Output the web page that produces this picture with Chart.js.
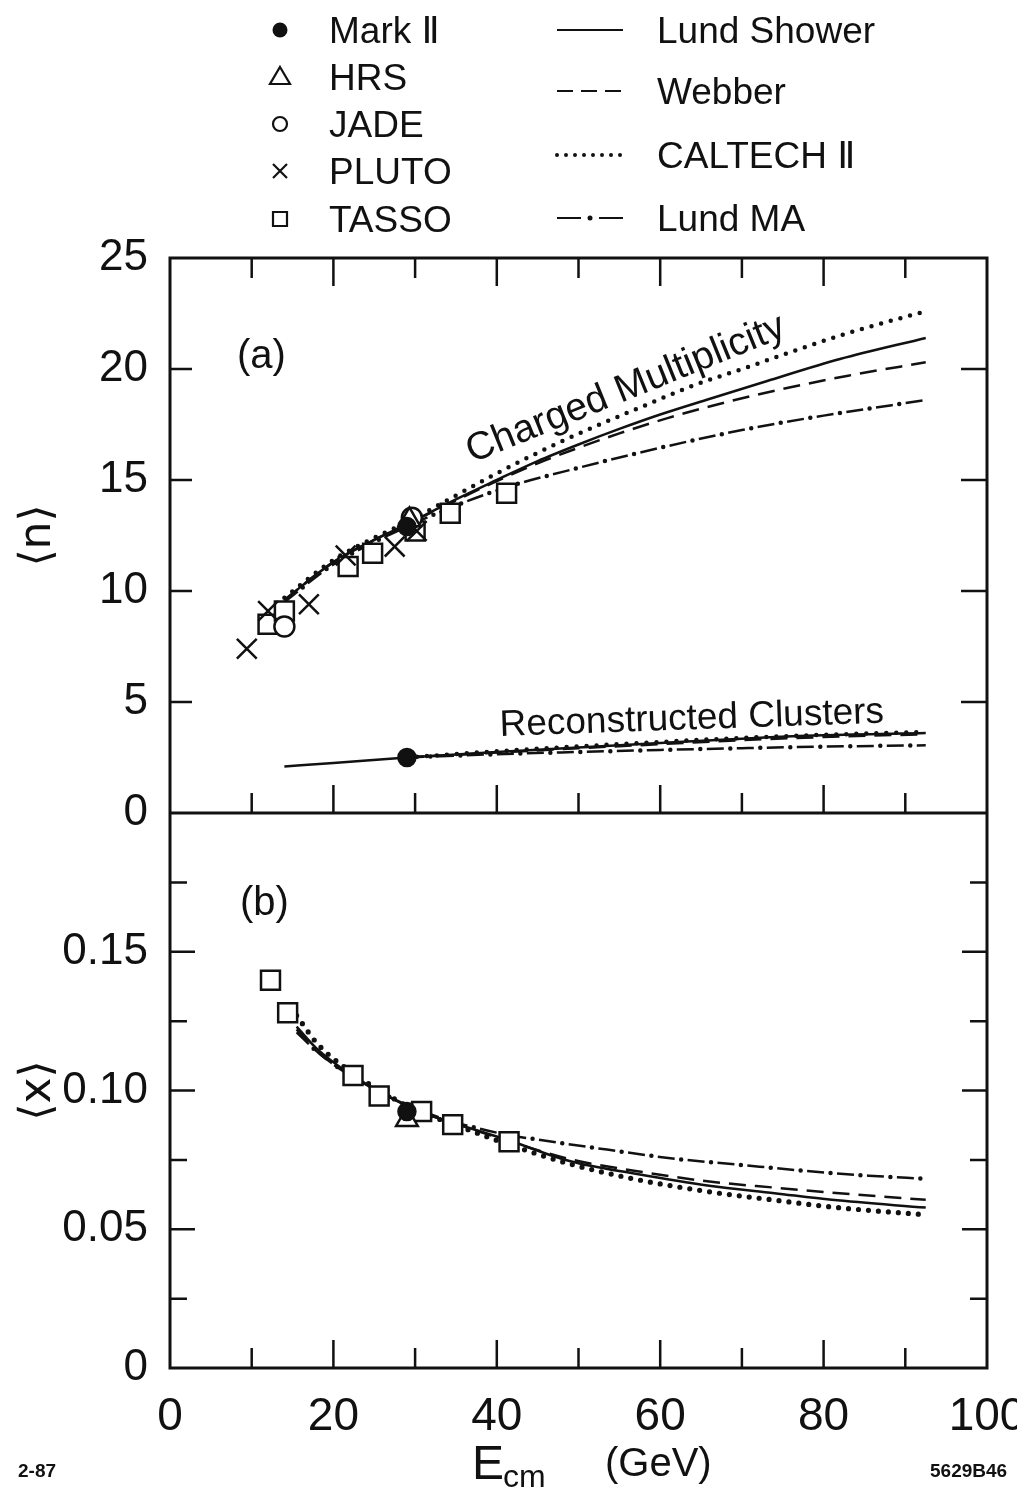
<!DOCTYPE html>
<html>
<head>
<meta charset="utf-8">
<title>Multiplicity and mean x vs E_cm</title>
<script src="https://cdn.jsdelivr.net/npm/chart.js@4.4.1/dist/chart.umd.min.js"></script>
<style>
  html, body { margin: 0; padding: 0; background: #fff; }
  #wrap { width: 1017px; height: 1491px; }
</style>
</head>
<body>
<div id="wrap"><canvas id="fig" width="1017" height="1491"></canvas></div>
<script>
// ---- (a) charged multiplicity <n>, data ----
const markIIE = [29.0];
const markIIN = [12.9];
const hrsE = [29.3];
const hrsN = [13.2];
const jadeE = [14.0, 29.6];
const jadeN = [8.4, 13.3];
const plutoE = [9.4, 12.0, 17.0, 21.5, 27.5, 30.2];
const plutoN = [7.4, 9.1, 9.4, 11.6, 12.0, 12.7];
const tassoE = [12.0, 14.0, 21.8, 24.8, 30.0, 34.3, 41.2];
const tassoN = [8.5, 9.1, 11.1, 11.7, 12.7, 13.5, 14.4];

// reconstructed clusters (Mark II)
const clusterE = [29.0];
const clusterN = [2.5];

// ---- (a) model curves ----
const lundShowerE = [14, 20, 25, 29, 34, 40, 45, 50, 55, 60, 66, 73, 82, 92.5];
const lundShowerN = [9.6, 11.3, 12.3, 13.0, 13.95, 15.0, 15.85, 16.6, 17.3, 17.95, 18.65, 19.45, 20.45, 21.4];
const webberE = [14, 20, 25, 29, 34, 40, 45, 50, 55, 61, 68, 75, 83, 92.5];
const webberN = [9.6, 11.3, 12.3, 13.0, 13.9, 14.95, 15.75, 16.45, 17.1, 17.8, 18.5, 19.1, 19.7, 20.3];
const caltechE = [14, 20, 25, 29, 34, 40, 47.7, 52.6, 58.4, 64, 70, 76.3, 82.8, 92.5];
const caltechN = [9.7, 11.4, 12.4, 13.1, 14.1, 15.3, 16.7, 17.5, 18.4, 19.25, 20.0, 20.8, 21.6, 22.6];
const lundMAE = [14, 20, 25, 29, 34, 41, 50, 60, 70, 80, 92.5];
const lundMAN = [9.5, 11.2, 12.2, 12.9, 13.7, 14.65, 15.55, 16.45, 17.25, 17.9, 18.6];

const lundShowerClE = [14, 20, 29, 40, 50, 60, 70, 80, 92.5];
const lundShowerClN = [2.1, 2.25, 2.5, 2.75, 2.95, 3.15, 3.35, 3.5, 3.6];
const webberClE = [29, 40, 50, 60, 70, 80, 92.5];
const webberClN = [2.5, 2.72, 2.92, 3.1, 3.28, 3.42, 3.55];
const caltechClE = [29, 40, 50, 60, 70, 80, 92.5];
const caltechClN = [2.5, 2.78, 3.0, 3.2, 3.38, 3.52, 3.65];
const lundMAClE = [29, 40, 50, 60, 70, 80, 92.5];
const lundMAClN = [2.5, 2.65, 2.75, 2.84, 2.92, 2.99, 3.05];

// ---- (b) mean scaled momentum <x>, data ----
const tassoXE = [12.3, 14.4, 22.4, 25.6, 30.8, 34.6, 41.5];
const tassoX = [0.1397, 0.128, 0.1054, 0.098, 0.0924, 0.0877, 0.0815];
const hrsXE = [29.0];
const hrsX = [0.0895];
const markIIXE = [29.0];
const markIIX = [0.0924];

// ---- (b) model curves ----
const modelXE = [15.5, 18, 22, 26, 30, 35, 41, 49, 57, 66, 74, 81, 92.5];
const lundShowerX = [0.123, 0.115, 0.106, 0.099, 0.093, 0.088, 0.0825, 0.0745, 0.0700, 0.0657, 0.0630, 0.0606, 0.0578];
const webberX = [0.122, 0.114, 0.1055, 0.099, 0.093, 0.088, 0.0822, 0.0752, 0.0710, 0.0672, 0.0650, 0.0632, 0.0606];
const caltechX = [0.127, 0.117, 0.107, 0.0995, 0.093, 0.0875, 0.0810, 0.0735, 0.0680, 0.0635, 0.0605, 0.0580, 0.0552];
const lundMAXE = [15.5, 18, 22, 26, 30, 35, 41, 45, 53.5, 61.5, 69.5, 77.5, 85.5, 92.5];
const lundMAX = [0.121, 0.114, 0.1055, 0.099, 0.0935, 0.0885, 0.0842, 0.0823, 0.0787, 0.0755, 0.0733, 0.0711, 0.0693, 0.0682];

const INK = '#111';
const FONT = "'Liberation Sans', Arial, sans-serif";

function pts(xs, ys) {
  return xs.map((e, i) => ({ x: e, y: ys[i] }));
}

function marker(xs, ys, axis, style, radius, filled) {
  return {
    data: pts(xs, ys), yAxisID: axis, showLine: false,
    pointStyle: style, pointRadius: radius, pointHoverRadius: radius,
    pointBorderWidth: 2.5, pointBorderColor: INK,
    pointBackgroundColor: filled ? INK : '#fff'
  };
}

// kind: solid | dashed | dotted | dashdot
function curve(xs, ys, axis, kind, dotWidth) {
  const ds = {
    data: pts(xs, ys), yAxisID: axis, showLine: true, pointRadius: 0,
    borderColor: INK, borderWidth: 2.5, fill: false,
    cubicInterpolationMode: 'monotone'
  };
  if (kind === 'dashed') ds.borderDash = [17, 9];
  if (kind === 'dotted') {
    ds.borderDash = [0, 10];
    ds.borderWidth = dotWidth || 4.5;
    ds.borderCapStyle = 'round';
  }
  if (kind === 'dashdot') ds.borderDash = [17, 13];
  return ds;
}

// the dots of a dash-dot curve sit in the gaps of its dashes
function dashDotDots(xs, ys, axis) {
  const ds = curve(xs, ys, axis, 'solid');
  ds.borderDash = [0, 30];
  ds.borderDashOffset = 6.5;
  ds.borderWidth = 4.5;
  ds.borderCapStyle = 'round';
  return ds;
}

const datasets = [
  marker(markIIE, markIIN, 'yN', 'circle', 8.5, true),
  marker(clusterE, clusterN, 'yN', 'circle', 8.5, true),
  marker(hrsE, hrsN, 'yN', 'triangle', 12.5, false),
  marker(jadeE, jadeN, 'yN', 'circle', 10, false),
  marker(plutoE, plutoN, 'yN', 'crossRot', 14, false),
  marker(tassoE, tassoN, 'yN', 'rect', 13.4, false),
  marker(markIIXE, markIIX, 'yX', 'circle', 8.5, true),
  marker(hrsXE, hrsX, 'yX', 'triangle', 12.5, false),
  marker(tassoXE, tassoX, 'yX', 'rect', 13.4, false),

  curve(lundShowerE, lundShowerN, 'yN', 'solid'),
  curve(webberE, webberN, 'yN', 'dashed'),
  curve(caltechE, caltechN, 'yN', 'dotted'),
  curve(lundMAE, lundMAN, 'yN', 'dashdot'),
  dashDotDots(lundMAE, lundMAN, 'yN'),

  curve(lundShowerClE, lundShowerClN, 'yN', 'solid'),
  curve(webberClE, webberClN, 'yN', 'dashed'),
  curve(caltechClE, caltechClN, 'yN', 'dotted'),
  curve(lundMAClE, lundMAClN, 'yN', 'dashdot'),
  dashDotDots(lundMAClE, lundMAClN, 'yN'),

  curve(modelXE, lundShowerX, 'yX', 'solid'),
  curve(modelXE, webberX, 'yX', 'dashed'),
  curve(modelXE, caltechX, 'yX', 'dotted', 5.2),
  curve(lundMAXE, lundMAX, 'yX', 'dashdot'),
  dashDotDots(lundMAXE, lundMAX, 'yX')
];

// text with a trailing roman numeral two, the numeral set in DejaVu
function labelWithTwo(ctx, text, x, y, size) {
  const hasTwo = text.endsWith(' Ⅱ');
  const head = hasTwo ? text.slice(0, -1) : text;
  ctx.font = size + 'px ' + FONT;
  ctx.fillText(head, x, y);
  if (hasTwo) {
    const w = ctx.measureText(head).width;
    ctx.font = size + "px 'DejaVu Sans'";
    ctx.fillText('Ⅱ', x + w, y);
    ctx.font = size + 'px ' + FONT;
  }
}

// frame, inward ticks, panel labels, key and footer text
const decorations = {
  id: 'decorations',
  afterDraw(chart) {
    const { ctx, chartArea: a, scales } = chart;
    const sx = scales.x, yN = scales.yN, yX = scales.yX;
    const mid = yN.getPixelForValue(0);

    ctx.save();
    ctx.strokeStyle = INK;
    ctx.fillStyle = INK;
    ctx.lineWidth = 3;
    ctx.strokeRect(a.left, a.top, a.right - a.left, a.bottom - a.top);
    ctx.beginPath();
    ctx.moveTo(a.left, mid);
    ctx.lineTo(a.right, mid);
    ctx.stroke();

    ctx.lineWidth = 2.5;
    ctx.beginPath();
    for (let v = 10; v < 100; v += 10) {
      const px = sx.getPixelForValue(v);
      const len = v % 20 === 0 ? 28 : 20;
      ctx.moveTo(px, a.top); ctx.lineTo(px, a.top + len);
      ctx.moveTo(px, mid); ctx.lineTo(px, mid - len);
      ctx.moveTo(px, a.bottom); ctx.lineTo(px, a.bottom - len);
    }
    for (let v = 5; v < 25; v += 5) {
      const py = yN.getPixelForValue(v);
      ctx.moveTo(a.left, py); ctx.lineTo(a.left + 22, py);
      ctx.moveTo(a.right, py); ctx.lineTo(a.right - 26, py);
    }
    for (let i = 1; i < 8; i++) {
      const py = yX.getPixelForValue(i * 0.025);
      const len = i % 2 === 0 ? 25 : 17;
      ctx.moveTo(a.left, py); ctx.lineTo(a.left + len, py);
      ctx.moveTo(a.right, py); ctx.lineTo(a.right - len, py);
    }
    ctx.stroke();

    // panel tags and curve captions
    ctx.textBaseline = 'alphabetic';
    ctx.font = '40px ' + FONT;
    ctx.fillText('(a)', 237, 368);
    ctx.fillText('(b)', 240, 915);

    ctx.font = '39px ' + FONT;
    ctx.save();
    ctx.translate(472, 463);
    ctx.rotate(-22 * Math.PI / 180);
    ctx.fillText('Charged Multiplicity', 0, 0);
    ctx.restore();
    ctx.font = '37px ' + FONT;
    ctx.save();
    ctx.translate(500, 736);
    ctx.rotate(-2 * Math.PI / 180);
    ctx.fillText('Reconstructed Clusters', 0, 0);
    ctx.restore();

    // key: experiments
    const expRows = [
      ['dot', 'Mark Ⅱ', 30], ['tri', 'HRS', 77], ['ring', 'JADE', 124],
      ['cross', 'PLUTO', 171], ['box', 'TASSO', 219]
    ];
    ctx.lineWidth = 2.2;
    expRows.forEach(([kind, text, y]) => {
      keySymbol(ctx, kind, 280, y);
      labelWithTwo(ctx, text, 329, y + 13, 37);
    });

    // key: models
    const modelRows = [
      ['solid', 'Lund Shower', 30], ['dashed', 'Webber', 91],
      ['dotted', 'CALTECH Ⅱ', 155], ['dashdot', 'Lund MA', 218]
    ];
    modelRows.forEach(([kind, text, y]) => {
      keyLine(ctx, kind, 557, 623, y);
      labelWithTwo(ctx, text, 657, y + 13, 37);
    });

    // x axis title with subscript
    ctx.font = '48px ' + FONT;
    ctx.fillText('E', 472, 1479);
    ctx.font = '32px ' + FONT;
    ctx.fillText('cm', 503, 1487);
    ctx.font = '40px ' + FONT;
    ctx.fillText('(GeV)', 605, 1476);

    ctx.font = 'bold 19px ' + FONT;
    ctx.fillText('2-87', 18, 1477);
    ctx.fillText('5629B46', 930, 1477);
    ctx.restore();
  }
};

function keySymbol(ctx, kind, x, y) {
  ctx.beginPath();
  if (kind === 'dot') {
    ctx.arc(x, y, 7.5, 0, Math.PI * 2);
    ctx.fill();
    return;
  }
  if (kind === 'tri') {
    ctx.moveTo(x, y - 10); ctx.lineTo(x + 10, y + 7); ctx.lineTo(x - 10, y + 7); ctx.closePath();
  } else if (kind === 'ring') {
    ctx.arc(x, y, 7, 0, Math.PI * 2);
  } else if (kind === 'cross') {
    ctx.moveTo(x - 7, y - 7); ctx.lineTo(x + 7, y + 7);
    ctx.moveTo(x + 7, y - 7); ctx.lineTo(x - 7, y + 7);
  } else if (kind === 'box') {
    ctx.rect(x - 7, y - 7, 14, 14);
  }
  ctx.stroke();
}

function keyLine(ctx, kind, x0, x1, y) {
  ctx.save();
  ctx.lineWidth = 2.2;
  ctx.beginPath();
  if (kind === 'dashed') ctx.setLineDash([16, 8]);
  if (kind === 'dotted') { ctx.setLineDash([0, 9]); ctx.lineWidth = 4; ctx.lineCap = 'round'; }
  if (kind === 'dashdot') {
    ctx.moveTo(x0, y); ctx.lineTo(x0 + 24, y);
    ctx.moveTo(x1 - 24, y); ctx.lineTo(x1, y);
    ctx.stroke();
    ctx.beginPath();
    ctx.arc((x0 + x1) / 2, y, 2.5, 0, Math.PI * 2);
    ctx.fill();
    ctx.restore();
    return;
  }
  ctx.moveTo(x0, y);
  ctx.lineTo(x1, y);
  ctx.stroke();
  ctx.restore();
}

const tickFont = { family: FONT, size: 44 };

new Chart(document.getElementById('fig'), {
  type: 'scatter',
  data: { datasets },
  options: {
    responsive: false,
    animation: false,
    devicePixelRatio: 1,
    layout: { padding: { top: 258, right: 30, left: 0, bottom: 0 } },
    plugins: { legend: { display: false }, tooltip: { enabled: false } },
    scales: {
      x: {
        type: 'linear', position: 'bottom', min: 0, max: 100,
        grid: { display: false, drawTicks: false }, border: { display: false },
        ticks: { stepSize: 20, color: INK, padding: 22, font: { family: FONT, size: 46 } },
        afterFit(s) { s.height = 123; s.paddingLeft = 0; s.paddingRight = 0; }
      },
      yX: {
        type: 'linear', position: 'left', stack: 'panels', stackWeight: 1,
        min: 0, max: 0.2,
        grid: { display: false, drawTicks: false }, border: { display: false },
        ticks: {
          stepSize: 0.05, color: INK, padding: 22, font: tickFont,
          callback: v => (v === 0 ? '0' : (Math.abs(v - 0.2) < 1e-9 ? '' : v.toFixed(2)))
        },
        title: { display: true, text: '⟨x⟩', color: INK, font: { family: 'DejaVu Sans', size: 44 }, padding: { top: 12, bottom: 0 } },
        afterFit(s) { s.width = 170; s.paddingTop = 0; s.paddingBottom = 0; }
      },
      yN: {
        type: 'linear', position: 'left', stack: 'panels', stackWeight: 1,
        min: 0, max: 25,
        grid: { display: false, drawTicks: false }, border: { display: false },
        ticks: { stepSize: 5, color: INK, padding: 22, font: tickFont },
        title: { display: true, text: '⟨n⟩', color: INK, font: { family: 'DejaVu Sans', size: 44 }, padding: { top: 12, bottom: 0 } },
        afterFit(s) { s.width = 170; s.paddingTop = 0; s.paddingBottom = 0; }
      }
    }
  },
  plugins: [decorations]
});
</script>
</body>
</html>
